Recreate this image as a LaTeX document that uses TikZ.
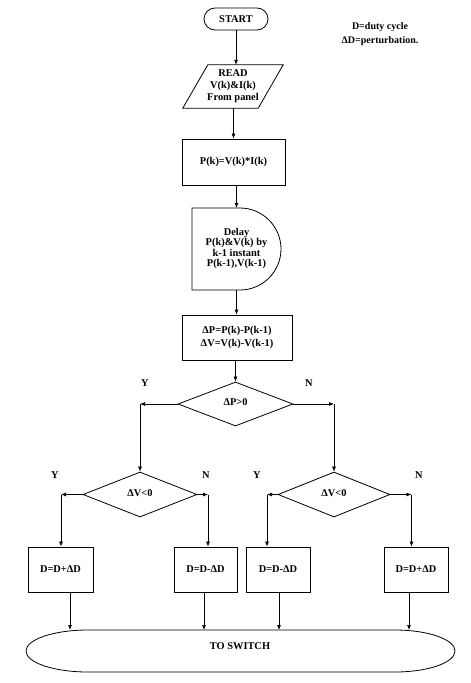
\documentclass[tikz,border=0pt]{standalone}
\usepackage{fontspec}
\setmainfont{Liberation Serif}
\usetikzlibrary{shapes.geometric,arrows.meta,calc}
\begin{document}
\begin{tikzpicture}[x=1pt,y=-1pt,
  every node/.style={font=\bfseries\fontsize{10.4}{12}\selectfont, inner sep=0pt},
  box/.style={draw, line width=0.8pt, rectangle, align=center},
  dec/.style={draw, line width=0.8pt, diamond},
  shp/.style={line width=0.8pt},
  arr/.style={line width=0.7pt, -{Latex[length=5pt,width=4pt]}},
  ln/.style={line width=0.7pt}]
\useasboundingbox (0,0) rectangle (471,683);

% top
\node[box, rounded corners=11pt, minimum width=64pt, minimum height=22pt] (start) at (236,19) {START};
\node[align=center, font=\bfseries\fontsize{10}{14}\selectfont] (note) at (380,34) {D=duty cycle\\ΔD=perturbation.};

\node[align=center, minimum width=100pt, minimum height=43pt] (read) at (233,86.5) {READ\\V(k)\&I(k)\\From panel};
\draw[shp] ($(read.north west)+(25,0)$) -- (read.north east) -- ($(read.south east)+(-25,0)$) -- (read.south west) -- cycle;

\node[box, minimum width=103pt, minimum height=46pt] (pk) at (233.5,162) {P(k)=V(k)*I(k)};

\node[minimum width=89pt, minimum height=82pt] (delay) at (236.5,249)
  {\raisebox{6pt}{\fontsize{10.4}{10.4}\selectfont\begin{tabular}{@{}c@{}}Delay\\P(k)\&V(k) by\\k-1 instant\\P(k-1),V(k-1)\end{tabular}}};
\draw[shp] (240,208) .. controls (262.6,208) and (281,226.4) .. (281,249)
  .. controls (281,271.6) and (262.6,290) .. (240,290) -- (192,290) -- (192,208) -- cycle;

\node[box, minimum width=110pt, minimum height=45pt] (dp) at (237,337.5)
  {\raisebox{5pt}{\fontsize{10.4}{13}\selectfont\begin{tabular}{@{}c@{}}ΔP=P(k)-P(k-1)\\ΔV=V(k)-V(k-1)\end{tabular}}};

% decisions
\node[dec, minimum width=115pt, minimum height=44pt] (d1) at (235.5,404) {\raisebox{3pt}{ΔP>0}};
\node[dec, minimum width=114pt, minimum height=45pt] (d2) at (140,494.5) {\raisebox{2pt}{ΔV<0}};
\node[dec, minimum width=112pt, minimum height=45pt] (d3) at (334,494.5) {\raisebox{2pt}{ΔV<0}};

\node (y1) at (145,383) {Y};
\node (n1) at (309,383) {N};
\node (y2) at (55,475) {Y};
\node (n2) at (206,475) {N};
\node (y3) at (257,475) {Y};
\node (n3) at (419,475) {N};

% results
\node[box, minimum width=65pt, minimum height=45pt] (b1) at (60.5,569.5) {D=D+ΔD};
\node[box, minimum width=63pt, minimum height=45pt] (b2) at (205.5,569.5) {D=D-ΔD};
\node[box, minimum width=64pt, minimum height=45pt] (b3) at (278,569.5) {D=D-ΔD};
\node[box, minimum width=64pt, minimum height=45pt] (b4) at (416,569.5) {D=D+ΔD};

% to switch
\node (sw) at (240,646) {TO SWITCH};
\coordinate (swtop) at (240,630);
\draw[shp] (88,630) -- (395,630) .. controls (428.1,630) and (455,639.4) .. (455,651)
  .. controls (455,662.6) and (428.1,672) .. (395,672) -- (88,672)
  .. controls (53.8,672) and (26,662.6) .. (26,651)
  .. controls (26,639.4) and (53.8,630) .. (88,630) -- cycle;

% connectors main column
\draw[arr] (start.south) -- (start.south |- read.north);
\draw[arr] (pk.north |- read.south) -- (pk.north);
\draw[arr] (pk.south) -- (pk.south -| delay.north) -- (delay.north);
\draw[arr] (delay.south) -- (delay.south |- dp.north);
\draw[arr] (d1.north |- dp.south) -- (d1.north);

% from d1
\draw[arr] (d1.west) -- (d1.west -| d2.north);
\draw[arr] (d1.west -| d2.north) -- (d2.north);
\draw[arr] (d1.east) -- (d1.east -| d3.north);
\draw[arr] (d1.east -| d3.north) -- (d3.north);

% into result boxes
\path ([xshift=0.5pt]b1.north) coordinate (b1in)
      ([xshift=2.5pt]b2.north) coordinate (b2in)
      ([xshift=-11pt]b3.north) coordinate (b3in)
      ([xshift=-4.5pt]b4.north) coordinate (b4in);
\draw[arr] (d2.west) -- (d2.west -| b1in);
\draw[arr] (d2.west -| b1in) -- (b1in);
\draw[arr] (d2.east) -- (d2.east -| b2in);
\draw[arr] (d2.east -| b2in) -- (b2in);
\draw[arr] (d3.west) -- (d3.west -| b3in);
\draw[arr] (d3.west -| b3in) -- (b3in);
\draw[arr] (d3.east) -- (d3.east -| b4in);
\draw[arr] (d3.east -| b4in) -- (b4in);

% out of result boxes
\path ([xshift=9.5pt]b1.south) coordinate (b1out)
      ([xshift=-1.5pt]b2.south) coordinate (b2out)
      ([xshift=1pt]b3.south) coordinate (b3out)
      ([xshift=-7pt]b4.south) coordinate (b4out);
\draw[arr] (b1out) -- (b1out |- swtop);
\draw[arr] (b2out) -- (b2out |- swtop);
\draw[arr] (b3out) -- (b3out |- swtop);
\draw[arr] (b4out) -- (b4out |- swtop);
\end{tikzpicture}
\end{document}
